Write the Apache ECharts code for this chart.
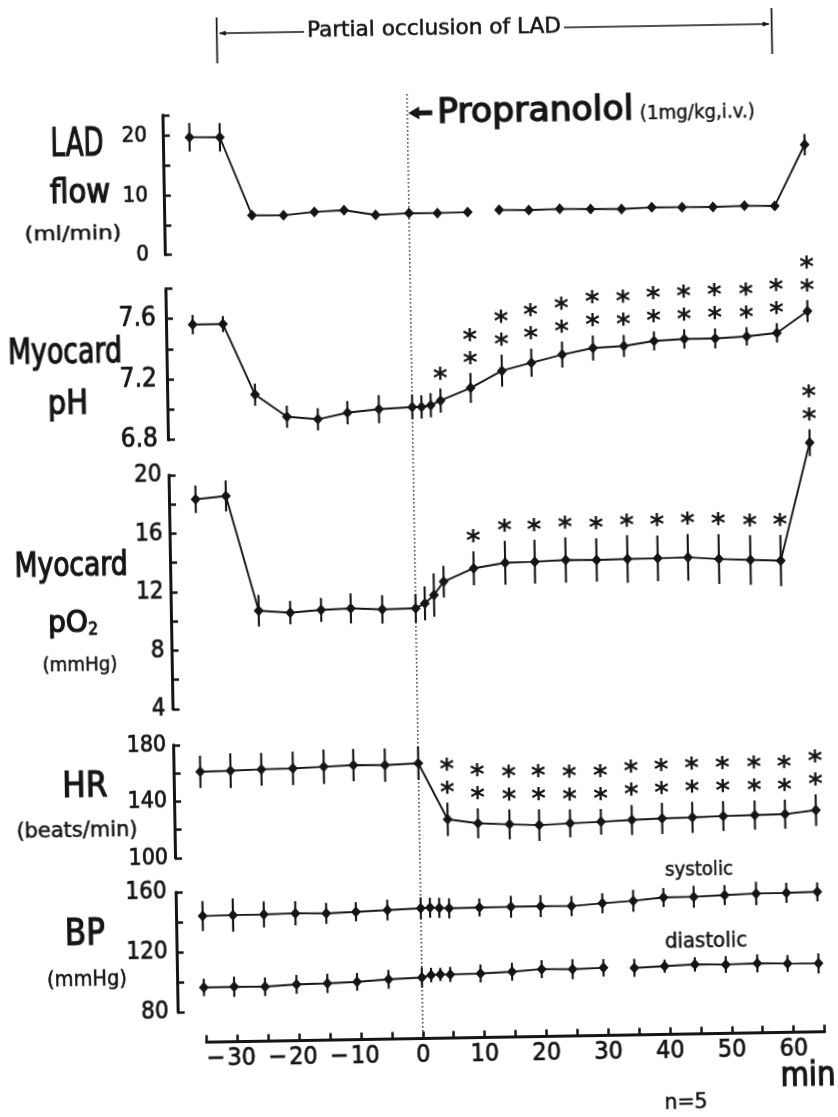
<!DOCTYPE html>
<html><head><meta charset="utf-8">
<script src="https://cdn.jsdelivr.net/npm/echarts@6/dist/echarts.min.js"></script>
<style>
html,body{margin:0;padding:0;background:#fff;overflow:hidden;}
#wrap{position:absolute;left:0;top:0;width:838px;height:1117px;transform:rotate(-0.97deg);transform-origin:419px 558px;background:#fff;}
#chart{width:838px;height:1117px;}
</style></head><body>
<div id="wrap"><div id="chart"></div></div>
<script>
// ---------------- data ----------------
const times = [-35.3,-30.4,-25.4,-20.3,-15.3,-10.5,-5.4,0,1.5,3,4.6,9.5,14.6,19.4,24.4,29.4,34.4,39.3,44.2,49.2,54.3,59.2,64.2];

const ladFlow   = [19.7,19.6,6.4,6.3,6.8,7.0,6.1,6.3,null,null,6.25,6.3,6.6,6.5,6.6,6.5,6.4,6.6,6.55,6.5,6.6,6.5,16.7];
const ladFlowSD = [2.4,2.4,0.5,0.5,0.5,0.5,0.5,0.5,null,null,0.5,0.5,0.5,0.5,0.5,0.5,0.5,0.5,0.5,0.5,0.5,0.5,1.8];
const ladFlowGapAfter = 9.5;

const myoPH    = [7.56,7.56,7.09,6.94,6.92,6.96,6.98,6.99,6.99,7.00,7.03,7.11,7.22,7.27,7.32,7.36,7.37,7.40,7.41,7.41,7.42,7.44,7.58];
const myoPHSD  = [0.064,0.053,0.073,0.073,0.073,0.077,0.093,0.079,0.077,0.08,0.08,0.099,0.106,0.093,0.086,0.083,0.073,0.063,0.064,0.066,0.061,0.064,0.073];
const myoPHSig = [0,0,0,0,0,0,0,0,0,0,1,2,2,2,2,2,2,2,2,2,2,2,2];

const myoPO2    = [18.31,18.50,10.62,10.45,10.60,10.67,10.57,10.60,10.93,11.49,12.39,13.27,13.61,13.65,13.73,13.70,13.73,13.74,13.77,13.62,13.52,13.44,21.47];
const myoPO2SD  = [0.94,1.06,1.08,0.8,0.82,1.03,0.97,0.99,1.16,1.48,1.08,1.16,1.5,1.5,1.55,1.48,1.63,1.56,1.6,1.7,1.7,1.75,0.92];
const myoPO2Sig = [0,0,0,0,0,0,0,0,0,0,0,1,1,1,1,1,1,1,1,1,1,1,2];

const heartRate    = [160.7,161.1,161.7,162.0,162.8,163.6,163.2,164.1,null,null,124.1,120.9,119.8,118.9,119.8,120.5,121.4,122.2,122.5,123.1,123.4,123.7,126.2];
const heartRateSD  = [11.4,12.3,11.6,11.8,12.2,11.4,11.8,11.8,null,null,11.8,10.6,10.6,11.2,9.9,9.1,10.6,11,11,10.6,10.3,10.3,11.2];
const heartRateSig = [0,0,0,0,0,0,0,0,0,0,2,2,2,2,2,2,2,2,2,2,2,2,2];

const systolicBP  = [143.7,144.0,144.1,144.5,144.1,144.8,145.6,146.4,146.7,146.5,146.1,146.3,146.4,146.5,146.2,147.7,149.0,150.9,151.0,151.8,152.5,152.6,152.9];
const systolicSD  = [10,11.1,8.7,8.1,7,6.4,6.9,7.3,6.7,6.7,6.7,6,7.3,7.3,6.7,6.7,7.3,6.3,7.3,6.7,7.8,6.7,6.3];
const diastolicBP = [96.1,96.2,95.9,97.1,97.4,98.1,99.4,100.3,101.8,102.1,102.0,102.3,103.1,104.5,104.1,104.7,104.3,105.1,105.9,105.5,105.9,105.5,105.2];
const diastolicSD = [5.8,6.7,6.2,6.3,6.4,5.9,6.3,6.7,4.8,4.4,5,6,6,6,6.7,5.8,6,4.4,4.8,5.6,6,5.6,6.7];
const diastolicGapAfter = 29.4;

const xLabelValues = [-30,-20,-10,0,10,20,30,40,50,60];
const ladTickLabels = [0,10,20];
const phTickLabels  = [6.8,7.2,7.6];
const po2TickLabels = [4,8,12,16,20];
const hrTickLabels  = [100,140,180];
const bpTickLabels  = [80,120,160];

const occlusionStart = -30.6, occlusionEnd = 59.2, drugTime = 0;

// ---------------- style / layout ----------------
const INK = '#151515';
const FONT = "'Liberation Sans Narrow','Arial Narrow','DejaVu Sans Condensed','Liberation Sans',sans-serif";
const STAR_FONT = "'DejaVu Sans',sans-serif";
const PLOT_LEFT = 198.5, PLOT_WIDTH = 618, AXIS_GAP = 28.5;
const boxes = [
  {top:110.8, height:139.8},
  {top:284.5, height:151.2},
  {top:470.8, height:234},
  {top:740.8, height:113},
  {top:887.9, height:120},
  {top:94,    height:944.6}
];

const measureCtx = document.createElement('canvas').getContext('2d');
function fitText(text, cx, cy, width, size, thick) {
  measureCtx.font = 'normal ' + size + 'px ' + FONT;
  const w = measureCtx.measureText(text).width || 1;
  const style = {text, fontSize:size, fontFamily:FONT, fontWeight:'normal', fill:INK,
      align:'center', verticalAlign:'middle', textAlign:'center', textVerticalAlign:'middle'};
  if (thick) { style.stroke = INK; style.lineWidth = thick; }
  return {type:'text', x:cx, y:cy, scaleX: width / w, silent:true, style};
}

function yAxisCfg(i, min, max, interval, labels, fontSize, margin, decimals) {
  return {gridIndex:i, type:'value', min, max, interval, offset:AXIS_GAP, position:'left',
    axisLine:{show:true, onZero:false, lineStyle:{color:INK, width:3}},
    axisTick:{show:true, inside:true, length:7, lineStyle:{color:INK, width:2.5}},
    splitLine:{show:false},
    axisLabel:{show:true, margin, color:INK, fontSize, fontFamily:FONT,
      textBorderColor:INK, textBorderWidth:0.7,
      formatter:(v)=>{ const hit = labels.find(l=>Math.abs(l-v)<1e-6); return hit===undefined ? '' : hit.toFixed(decimals); }}};
}

function lineSeries(i, vals, gapAfter) {
  const data = [];
  times.forEach((t,j)=>{
    if (vals[j]==null) return;
    data.push([t, vals[j]]);
    if (gapAfter!=null && t===gapAfter) data.push([t, '-']);
  });
  return {type:'line', xAxisIndex:i, yAxisIndex:i, data, clip:false, connectNulls:false,
    symbol:'diamond', symbolSize:[10,11], showSymbol:true, z:3, silent:true,
    itemStyle:{color:INK}, lineStyle:{color:INK, width:1.9}, animation:false};
}

function errSeries(i, vals, sds) {
  const data = [];
  times.forEach((t,j)=>{ if (vals[j]!=null && sds[j]!=null) data.push([t, vals[j]-sds[j], vals[j]+sds[j]]); });
  return {type:'custom', xAxisIndex:i, yAxisIndex:i, data, silent:true, z:2, clip:false,
    encode:{x:0, y:[1,2]},
    renderItem(params, api) {
      const a = api.coord([api.value(0), api.value(1)]);
      const b = api.coord([api.value(0), api.value(2)]);
      return {type:'line', shape:{x1:a[0], y1:a[1], x2:b[0], y2:b[1]}, style:{stroke:INK, lineWidth:2.1}};
    }};
}

const STAR_FIRST = 8.4, STAR_STEP = 23, STAR_SIZE = 28;
function starSeries(i, vals, sds, sig) {
  const data = [];
  times.forEach((t,j)=>{ if (sig[j]>0) data.push([t, vals[j]+sds[j], sig[j]]); });
  return {type:'custom', xAxisIndex:i, yAxisIndex:i, data, silent:true, z:4, clip:false,
    encode:{x:0, y:1},
    renderItem(params, api) {
      const p = api.coord([api.value(0), api.value(1)]);
      const n = api.value(2);
      const kids = [];
      for (let k=0; k<n; k++) {
        kids.push({type:'text', x:p[0], y:p[1]-STAR_FIRST-k*STAR_STEP,
          style:{text:'*', fontSize:STAR_SIZE, fontWeight:'bold', fontFamily:STAR_FONT, fill:INK,
            align:'center', verticalAlign:'middle', textAlign:'center', textVerticalAlign:'middle'}});
      }
      return {type:'group', children:kids};
    }};
}

// ---------------- axes ----------------
const grids = boxes.map(b=>({left:PLOT_LEFT, width:PLOT_WIDTH, top:b.top, height:b.height, containLabel:false}));

const xAxes = boxes.map((b,i)=>({gridIndex:i, type:'value', min:-35, max:65, interval:5, show:false}));
xAxes[4] = {gridIndex:4, type:'value', min:-35, max:65, interval:5, position:'bottom', offset:30.7,
  axisLine:{show:true, onZero:false, lineStyle:{color:INK, width:3}},
  axisTick:{show:true, inside:true, length:7, lineStyle:{color:INK, width:2.5}},
  splitLine:{show:false},
  axisLabel:{show:true, margin:4, color:INK, fontSize:25, fontFamily:FONT,
    textBorderColor:INK, textBorderWidth:0.7,
    formatter:(v)=>{
      const hit = xLabelValues.find(l=>Math.abs(l-v)<1e-6);
      if (hit===undefined) return '';
      return hit<0 ? '{m|\u2212}' + Math.abs(hit) + '{s| }' : String(hit);
    },
    rich:{m:{fontSize:25, fontFamily:FONT, color:INK, textBorderColor:INK, textBorderWidth:0.7, padding:[0,2,0,0]}, s:{width:13, fontSize:25}}}};

const yAxes = [
  yAxisCfg(0, 0, 23.5, 5, ladTickLabels, 22, 16, 0),
  yAxisCfg(1, 6.8, 7.8, 0.2, phTickLabels, 26, 10, 1),
  yAxisCfg(2, 4, 20, 2, po2TickLabels, 24, 7, 0),
  yAxisCfg(3, 100, 180, 20, hrTickLabels, 23, 7, 0),
  yAxisCfg(4, 80, 160, 20, bpTickLabels, 24, 9, 0),
  {gridIndex:5, type:'value', min:0, max:1, show:false}
];

// ---------------- annotations ----------------
const dottedLine = {type:'custom', xAxisIndex:5, yAxisIndex:5, data:[[drugTime, 0]], silent:true, z:1, clip:false,
  encode:{x:0, y:1},
  renderItem(params, api) {
    const x = api.coord([api.value(0), 0])[0];
    const cs = params.coordSys;
    return {type:'line', shape:{x1:x, y1:cs.y, x2:x, y2:cs.y+cs.height},
      style:{stroke:'#222', lineWidth:1.4, lineDash:[1.4,2.6]}};
  }};

const occlusion = {type:'custom', xAxisIndex:5, yAxisIndex:5, data:[[occlusionStart, 0.5, occlusionEnd]], silent:true, z:5, clip:false,
  encode:{x:[0,2], y:1},
  renderItem(params, api) {
    const xa = api.coord([api.value(0), 0])[0];
    const xb = api.coord([api.value(2), 0])[0];
    const yA = 30, textCx = 443, half = 127;
    return {type:'group', children:[
      {type:'line', shape:{x1:xa, y1:14, x2:xa, y2:60}, style:{stroke:INK, lineWidth:1.7}},
      {type:'line', shape:{x1:xb, y1:14, x2:xb, y2:60}, style:{stroke:INK, lineWidth:1.7}},
      {type:'line', shape:{x1:xa+3, y1:yA, x2:textCx-half-3, y2:yA}, style:{stroke:INK, lineWidth:1.4}},
      {type:'polygon', shape:{points:[[xa+2,yA],[xa+9,yA-2.5],[xa+9,yA+2.5]]}, style:{fill:INK}},
      {type:'line', shape:{x1:textCx+half+3, y1:yA, x2:xb-3, y2:yA}, style:{stroke:INK, lineWidth:1.4}},
      {type:'polygon', shape:{points:[[xb-2,yA],[xb-9,yA-2.5],[xb-9,yA+2.5]]}, style:{fill:INK}},
      fitText('Partial occlusion of LAD', textCx, 30, 2*half, 21, 0.5)
    ]};
  }};

const drugNote = {type:'custom', xAxisIndex:5, yAxisIndex:5, data:[[drugTime, 0]], silent:true, z:5, clip:false,
  encode:{x:0, y:1},
  renderItem(params, api) {
    const x0 = api.coord([api.value(0), 0])[0];
    const yA = 113;
    return {type:'group', children:[
      {type:'polygon', shape:{points:[[x0+1,yA],[x0+12,yA-6.5],[x0+12,yA+6.5]]}, style:{fill:INK}},
      {type:'rect', shape:{x:x0+11, y:yA-2.5, width:14, height:5}, style:{fill:INK}},
      fitText('Propranolol', x0+128, 114.5, 196, 33, 1.3),
      fitText('(1mg/kg,i.v.)', x0+290, 118, 115, 19, 0.4)
    ]};
  }};

// ---------------- panel titles ----------------
const titleSpecs = [
  ['LAD', 84, 140, 53, 39, 1.2],
  ['flow', 86.3, 188, 60, 33, 1.2],
  ['(ml/min)', 78.5, 229, 97, 20, 0.5],
  ['Myocard', 68.5, 348, 114, 35, 1.2],
  ['pH', 70.6, 399, 40, 33, 1.2],
  ['Myocard', 71, 561.7, 113, 33, 1.2],
  ['pO', 66.9, 618, 40, 30, 1.2],
  ['2', 91.9, 624.5, 10, 18, 0.8],
  ['(mmHg)', 78.2, 660.2, 75, 20, 0.5],
  ['HR', 81.1, 782, 45, 35, 1.2],
  ['(beats/min)', 72.4, 825.5, 121, 21, 0.5],
  ['BP', 78.6, 929, 40, 37, 1.2],
  ['(mmHg)', 79.9, 974.5, 80, 21, 0.5],
  ['systolic', 693.7, 875, 68, 20, 0.5],
  ['diastolic', 699.5, 947, 82, 21, 0.5],
  ['min', 799.2, 1082.8, 55, 34, 1.2],
  ['n=5', 676.7, 1108, 43, 21, 0.5]
];
const graphics = titleSpecs.map(s=>fitText(s[0], s[1], s[2], s[3], s[4], s[5]));

// ---------------- option ----------------
const option = {
  animation:false,
  backgroundColor:'#fff',
  textStyle:{fontFamily:FONT, color:INK},
  grid:grids, xAxis:xAxes, yAxis:yAxes,
  graphic:{elements:graphics},
  series:[
    dottedLine, occlusion, drugNote,
    errSeries(0, ladFlow, ladFlowSD), lineSeries(0, ladFlow, ladFlowGapAfter),
    errSeries(1, myoPH, myoPHSD), lineSeries(1, myoPH, null), starSeries(1, myoPH, myoPHSD, myoPHSig),
    errSeries(2, myoPO2, myoPO2SD), lineSeries(2, myoPO2, null), starSeries(2, myoPO2, myoPO2SD, myoPO2Sig),
    errSeries(3, heartRate, heartRateSD), lineSeries(3, heartRate, null), starSeries(3, heartRate, heartRateSD, heartRateSig),
    errSeries(4, systolicBP, systolicSD), lineSeries(4, systolicBP, null),
    errSeries(4, diastolicBP, diastolicSD), lineSeries(4, diastolicBP, diastolicGapAfter)
  ]
};
const chart = echarts.init(document.getElementById('chart'), null, {renderer:'canvas'});
chart.setOption(option);
</script>
</body></html>
